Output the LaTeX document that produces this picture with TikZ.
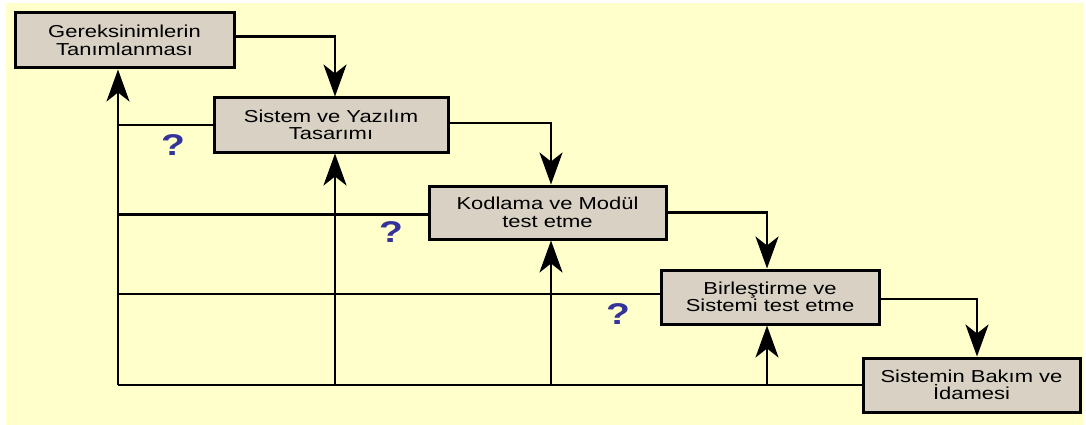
\documentclass[tikz,border=0pt]{standalone}
\usepackage{fontspec}
\usetikzlibrary{arrows.meta,calc}
\newfontfamily\boxfont[FakeStretch=1.27]{Liberation Sans}
\newfontfamily\qfont[FakeStretch=1.3]{Liberation Sans Bold}
\definecolor{bgyellow}{HTML}{FFFFCC}
\definecolor{boxfill}{HTML}{D8D1C4}
\definecolor{qblue}{HTML}{333399}
\begin{document}
\begin{tikzpicture}[x=1pt,y=-1pt,
  phase/.style={draw=black,line width=3pt,fill=boxfill,inner sep=0pt,
    align=center,font=\boxfont\fontsize{17.3}{17.5}\selectfont},
  link/.style={line width=2.8pt,draw=black},
  arr/.style={link,-{Stealth[length=32pt,width=23pt,inset=9pt]}},
  qmark/.style={text=qblue,font=\qfont\fontsize{30}{30}\selectfont,inner sep=0pt}]
% page and background
\fill[white] (0,0) rectangle (1086,425);
\useasboundingbox (0,0) rectangle (1086,425);
\fill[bgyellow] (6,3) rectangle (1084,425);

% phases of the waterfall
\node[phase,minimum width=219pt,minimum height=55pt] (b1) at (124.5,40.5)
  {Gereksinimlerin\\Tanımlanması};
\node[phase,minimum width=234pt,minimum height=54pt] (b2) at (331,125)
  {Sistem ve Yazılım\\Tasarımı};
\node[phase,minimum width=237pt,minimum height=53pt] (b3) at (547.5,212.5)
  {Kodlama ve Modül\\test etme};
\node[phase,minimum width=218pt,minimum height=54pt] (b4) at (770,297)
  {Birleştirme ve\\Sistemi test etme};
\node[phase,minimum width=217pt,minimum height=54pt] (b5) at (971.5,385)
  {Sistemin Bakım ve\\İdamesi};

% columns of the vertical connectors
\coordinate (in2) at ($(b2.north)+(4,0)$);
\coordinate (in3) at ($(b3.north)+(3.5,0)$);
\coordinate (in4) at ($(b4.north)+(-3,0)$);
\coordinate (in5) at ($(b5.north)+(5.5,0)$);
\coordinate (up1) at ($(b1.south)+(-6.5,0)$);
\coordinate (up2) at ($(b2.south)+(4,0)$);
\coordinate (up3) at ($(b3.south)+(3.5,0)$);
\coordinate (up4) at ($(b4.south)+(-3,0)$);
\coordinate (loop) at (b5.west -| up1);

% forward flow
\draw[arr] ([yshift=4pt]b1.east) -| (in2);
\draw[arr] ([yshift=2pt]b2.east) -| (in3);
\draw[arr] (b3.east) -| (in4);
\draw[arr] ([yshift=-2pt]b4.east) -| (in5);

% feedback flow
\draw[link] (b5.west) -- (loop);
\draw[arr] (loop) -- (up1);
\draw[arr] (loop -| up2) -- (up2);
\draw[arr] (loop -| up3) -- (up3);
\draw[arr] (loop -| up4) -- (up4);
\draw[link] (b2.west) -- (b2.west -| loop);
\draw[link] ([yshift=-2pt]b3.west) -- ([yshift=-2pt]b3.west -| loop);
\draw[link] ([yshift=3pt]b4.west) -- ([yshift=3pt]b4.west -| loop);

% open questions
\node[qmark] (q1) at (173,145) {?};
\node[qmark] (q2) at (391,232) {?};
\node[qmark] (q3) at (618,314) {?};
\end{tikzpicture}
\end{document}
